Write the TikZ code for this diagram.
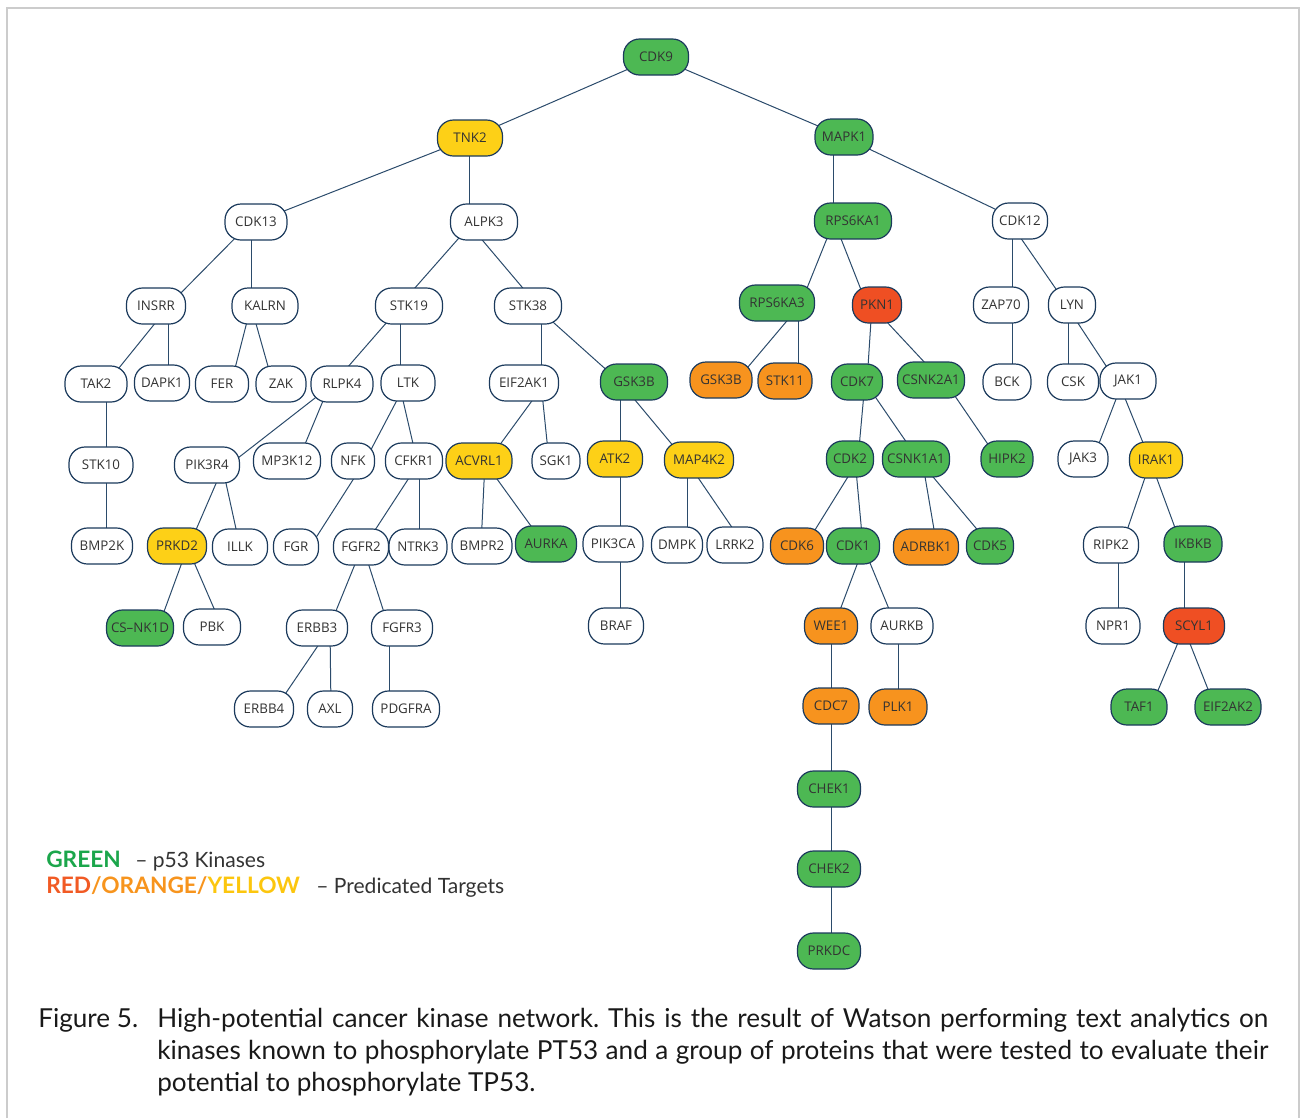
\documentclass[tikz,border=0pt]{standalone}
\usepackage{fontspec}
\setmainfont{Lato}
\newfontfamily\nodefont{Open Sans}
\definecolor{kgreen}{HTML}{4DB853}
\definecolor{kyellow}{HTML}{FDD017}
\definecolor{korange}{HTML}{F7931E}
\definecolor{kred}{HTML}{EF4F23}
\definecolor{kborder}{HTML}{1B3A5C}
\definecolor{kedge}{HTML}{2B4B6B}
\definecolor{ktext}{HTML}{333333}
\definecolor{lgreen}{HTML}{1BA64B}
\definecolor{lred}{HTML}{F15A24}
\definecolor{lorange}{HTML}{F7941D}
\definecolor{lyellow}{HTML}{FCC60E}
\definecolor{frameg}{HTML}{CCCCCC}
\pgfdeclarelayer{bg}
\pgfsetlayers{bg,main}
\frenchspacing
\tikzset{
  kn/.style={draw=kborder, line width=0.9pt, rounded corners=12pt, minimum height=27pt,
    inner xsep=1pt, inner ysep=0pt, font=\nodefont\fontsize{10}{12}\selectfont, text=ktext},
  kw/.style={kn, fill=white, minimum width=#1*0.75pt},
  kg/.style={kn, fill=kgreen, minimum width=#1*0.75pt},
  ky/.style={kn, fill=kyellow, minimum width=#1*0.75pt},
  ko/.style={kn, fill=korange, minimum width=#1*0.75pt},
  kr/.style={kn, fill=kred, minimum width=#1*0.75pt},
  con/.style={draw=kedge, line width=0.75pt},
  legtxt/.style={anchor=base west, inner sep=0pt, font=\fontsize{15.8}{18}\selectfont},
  legcol/.style={anchor=base west, inner sep=0pt, font=\fontsize{17}{20}\selectfont\bfseries},
  captxt/.style={anchor=base west, inner sep=0pt, font=\fontsize{19.6}{23}\selectfont, text=black!90}
}
\newcommand\ed[4]{\draw[con] ([xshift=#2*0.75pt]#1.center) -- ([xshift=#4*0.75pt]#3.center);}
\begin{document}
\begin{tikzpicture}[x=0.75pt,y=-0.75pt]
\useasboundingbox (0,0) rectangle (1302,1118);
\draw[frameg, line width=1.6pt] (7,1118) -- (7,8) -- (1299,8) -- (1299,1118);
% level 0-2
\node[kg=65] (cdk9) at (656,57) {CDK9};
\node[ky=65] (tnk2) at (470,138) {TNK2};
\node[kg=58] (mapk1) at (844,137) {MAPK1};
\node[kw=62] (cdk13) at (256,222) {CDK13};
\node[kw=67] (alpk3) at (484,222) {ALPK3};
\node[kg=77] (rps6ka1) at (853,221) {RPS6KA1};
\node[kw=55] (cdk12) at (1020,221) {CDK12};
% level 3
\node[kw=59] (insrr) at (156,306) {INSRR};
\node[kw=66] (kalrn) at (265,306) {KALRN};
\node[kw=67] (stk19) at (409,306) {STK19};
\node[kw=67] (stk38) at (528,306) {STK38};
\node[kg=75] (rps6ka3) at (777,303) {RPS6KA3};
\node[kr=49] (pkn1) at (877,305) {PKN1};
\node[kw=55] (zap70) at (1001,305) {ZAP70};
\node[kw=47] (lyn) at (1072,305) {LYN};
% level 4
\node[kw=62] (tak2) at (96,384) {TAK2};
\node[kw=55] (dapk1) at (162,383) {DAPK1};
\node[kw=53] (fer) at (222,384) {FER};
\node[kw=50] (zak) at (281,384) {ZAK};
\node[kw=62] (rlpk4) at (342,384) {RLPK4};
\node[kw=54] (ltk) at (408,383) {LTK};
\node[kw=69] (eif2ak1) at (524,383) {EIF2AK1};
\node[kg=67] (gskg) at (634,382) {GSK3B};
\node[ko=62] (gsko) at (721,380) {GSK3B};
\node[ko=54] (stk11) at (785,381) {STK11};
\node[kg=51] (cdk7) at (857,382) {CDK7};
\node[kg=67] (csnk2a1) at (931,380) {CSNK2A1};
\node[kw=48] (bck) at (1007,382) {BCK};
\node[kw=51] (csk) at (1073,382) {CSK};
\node[kw=56] (jak1) at (1128,381) {JAK1};
% level 5
\node[kw=64] (stk10) at (101,465) {STK10};
\node[kw=65] (pik3r4) at (207,465) {PIK3R4};
\node[kw=67] (mp3k12) at (287,461) {MP3K12};
\node[kw=43] (nfk) at (353,461) {NFK};
\node[kw=57] (cfkr1) at (414,461) {CFKR1};
\node[ky=66] (acvrl1) at (479,461) {ACVRL1};
\node[kw=48] (sgk1) at (556,461) {SGK1};
\node[ky=55] (atk2) at (615,459) {ATK2};
\node[ky=69] (map4k2) at (699,460) {MAP4K2};
\node[kg=47] (cdk2) at (850,459) {CDK2};
\node[kg=67] (csnk1a1) at (916,459) {CSNK1A1};
\node[kg=52] (hipk2) at (1007,459) {HIPK2};
\node[kw=50] (jak3) at (1083,459) {JAK3};
\node[ky=53] (irak1) at (1156,460) {IRAK1};
% level 6
\node[kw=61] (bmp2k) at (102,546) {BMP2K};
\node[ky=59] (prkd2) at (177,546) {PRKD2};
\node[kw=55] (illk) at (240,547) {ILLK};
\node[kw=45] (fgr) at (296,547) {FGR};
\node[kw=55] (fgfr2) at (361,547) {FGFR2};
\node[kw=58] (ntrk3) at (418,547) {NTRK3};
\node[kw=60] (bmpr2) at (482,546) {BMPR2};
\node[kg=61] (aurka) at (546,544) {AURKA};
\node[kw=60] (pik3ca) at (613,544) {PIK3CA};
\node[kw=51] (dmpk) at (677,545) {DMPK};
\node[kw=56] (lrrk2) at (735,545) {LRRK2};
\node[ko=53] (cdk6) at (797,546) {CDK6};
\node[kg=53] (cdk1) at (853,546) {CDK1};
\node[ko=65] (adrbk1) at (926,547) {ADRBK1};
\node[kg=47] (cdk5) at (990,546) {CDK5};
\node[kw=55] (ripk2) at (1111,545) {RIPK2};
\node[kg=58] (ikbkb) at (1193,544) {IKBKB};
% level 7
\node[kg=67] (csnk1d) at (140,628) {CS–NK1D};
\node[kw=57] (pbk) at (212,627) {PBK};
\node[kw=61] (erbb3) at (317,628) {ERBB3};
\node[kw=61] (fgfr3) at (402,628) {FGFR3};
\node[kw=55] (braf) at (616,626) {BRAF};
\node[ko=53] (wee1) at (831,626) {WEE1};
\node[kw=62] (aurkb) at (902,626) {AURKB};
\node[kw=54] (npr1) at (1113,626) {NPR1};
\node[kr=61] (scyl1) at (1194,626) {SCYL1};
% level 8
\node[kw=59] (erbb4) at (264,709) {ERBB4};
\node[kw=45] (axl) at (330,709) {AXL};
\node[kw=67] (pdgfra) at (406,709) {PDGFRA};
\node[ko=56] (cdc7) at (831,706) {CDC7};
\node[ko=58] (plk1) at (898,707) {PLK1};
\node[kg=56] (taf1) at (1139,707) {TAF1};
\node[kg=66] (eif2ak2) at (1228,707) {EIF2AK2};
% chain
\node[kg=63] (chek1) at (829,789) {CHEK1};
\node[kg=63] (chek2) at (829,869) {CHEK2};
\node[kg=63] (prkdc) at (829,951) {PRKDC};
% edges
\begin{pgfonlayer}{bg}
\ed{cdk9}{0}{tnk2}{0}
\ed{cdk9}{0}{mapk1}{0}
\ed{tnk2}{0}{cdk13}{0}
\ed{tnk2}{-1}{alpk3}{-15}
\ed{mapk1}{-11}{rps6ka1}{-20}
\ed{mapk1}{0}{cdk12}{0}
\ed{cdk13}{-5}{insrr}{12}
\ed{cdk13}{-5}{kalrn}{-14}
\ed{alpk3}{-11}{stk19}{-10}
\ed{alpk3}{-17}{stk38}{10}
\ed{rps6ka1}{-19}{rps6ka3}{24}
\ed{rps6ka1}{-19}{pkn1}{-10}
\ed{cdk12}{-8}{zap70}{11}
\ed{cdk12}{-11}{lyn}{-5}
\ed{insrr}{13}{tak2}{10}
\ed{insrr}{12}{dapk1}{6}
\ed{kalrn}{-14}{fer}{9}
\ed{kalrn}{-14}{zak}{-8}
\ed{stk19}{-8}{rlpk4}{-9}
\ed{stk19}{-9}{ltk}{-8}
\ed{stk38}{13}{eif2ak1}{17}
\ed{stk38}{7}{gskg}{-14}
\ed{rps6ka3}{25}{gsko}{16}
\ed{rps6ka3}{21}{stk11}{13}
\ed{pkn1}{-5}{cdk7}{10}
\ed{pkn1}{-6}{csnk2a1}{10}
\ed{zap70}{11}{bck}{5}
\ed{lyn}{-4}{csk}{-5}
\ed{lyn}{-6}{jak1}{-12}
\ed{tak2}{10}{stk10}{5}
\ed{rlpk4}{-9}{pik3r4}{22}
\ed{rlpk4}{-12}{mp3k12}{11}
\ed{ltk}{-2}{nfk}{12}
\ed{ltk}{-9}{cfkr1}{3}
\ed{eif2ak1}{21}{acvrl1}{9}
\ed{eif2ak1}{17}{sgk1}{-7}
\ed{gskg}{-14}{atk2}{5}
\ed{gskg}{-14}{map4k2}{-14}
\ed{cdk7}{8}{cdk2}{8}
\ed{cdk7}{8}{csnk1a1}{2}
\ed{csnk2a1}{13}{hipk2}{-9}
\ed{jak1}{-5}{jak3}{10}
\ed{jak1}{-10}{irak1}{-6}
\ed{stk10}{5}{bmp2k}{4}
\ed{pik3r4}{17}{prkd2}{12}
\ed{pik3r4}{15}{illk}{0}
\ed{nfk}{12}{fgr}{14}
\ed{cfkr1}{6}{fgfr2}{3}
\ed{cfkr1}{5}{ntrk3}{1}
\ed{acvrl1}{6}{bmpr2}{-1}
\ed{acvrl1}{5}{aurka}{-2}
\ed{atk2}{5}{pik3ca}{7}
\ed{map4k2}{-12}{dmpk}{10}
\ed{map4k2}{-13}{lrrk2}{9}
\ed{cdk2}{9}{cdk6}{8}
\ed{cdk2}{5}{cdk1}{10}
\ed{csnk1a1}{6}{adrbk1}{11}
\ed{csnk1a1}{2}{cdk5}{1}
\ed{irak1}{-5}{ripk2}{11}
\ed{irak1}{-6}{ikbkb}{-12}
\ed{prkd2}{11}{csnk1d}{18}
\ed{prkd2}{10}{pbk}{10}
\ed{fgfr2}{1}{erbb3}{12}
\ed{fgfr2}{2}{fgfr3}{-13}
\ed{pik3ca}{7}{braf}{4}
\ed{cdk1}{11}{wee1}{3}
\ed{cdk1}{10}{aurkb}{-6}
\ed{ripk2}{7}{npr1}{5}
\ed{ikbkb}{-9}{scyl1}{-10}
\ed{erbb3}{13}{erbb4}{11}
\ed{erbb3}{13}{axl}{1}
\ed{fgfr3}{-13}{pdgfra}{-17}
\ed{wee1}{0}{cdc7}{0}
\ed{aurkb}{-4}{plk1}{0}
\ed{scyl1}{-9}{taf1}{12}
\ed{scyl1}{-11}{eif2ak2}{-13}
\ed{cdc7}{0}{chek1}{2}
\ed{chek1}{2}{chek2}{2}
\ed{chek2}{2}{prkdc}{2}
\end{pgfonlayer}
% legend
\node[legcol, text=lgreen] (lg1) at (46,867) {GREEN};
\node[legtxt, text=ktext] (lg2) at (135,867) {– p53 Kinases};
\node[legcol] (lr1) at (46,893) {\textcolor{lred}{RED}\textcolor{lorange}{/ORANGE/}\textcolor{lyellow}{YELLOW}};
\node[legtxt, text=ktext] (lr2) at (316,893) {– Predicated Targets};
% caption
\node[captxt] (fig) at (38,1027) {Figure 5.};
\node[captxt] (c1) at (157,1027) {\makebox[833.25pt][s]{High-potential cancer kinase network. This is the result of Watson performing text analytics on}};
\node[captxt] (c2) at (157,1059) {\makebox[833.25pt][s]{kinases known to phosphorylate PT53 and a group of proteins that were tested to evaluate their}};
\node[captxt] (c3) at (157,1091) {potential to phosphorylate TP53.};
\end{tikzpicture}
\end{document}
